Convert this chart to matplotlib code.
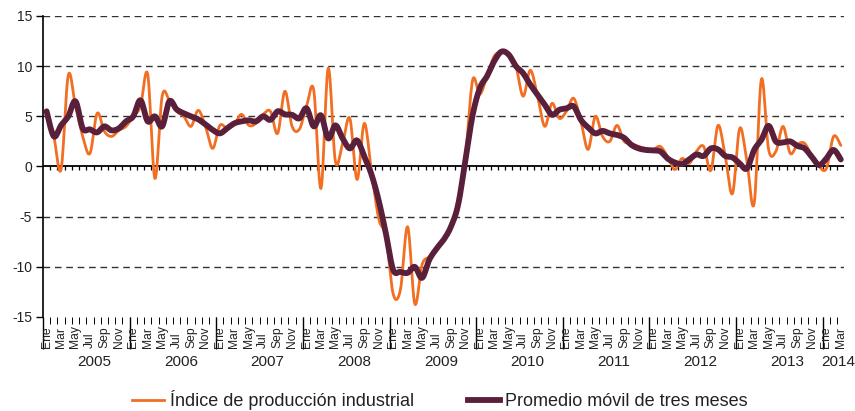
import numpy as np
import matplotlib
matplotlib.use("Agg")
import matplotlib.pyplot as plt
from matplotlib.lines import Line2D

plt.rcParams['font.family'] = ['Liberation Sans', 'DejaVu Sans']
plt.rcParams['axes.unicode_minus'] = False

# ---------------- data ----------------
years = ['2005', '2006', '2007', '2008', '2009', '2010', '2011', '2012', '2013', '2014']
month_labels = ['Ene', 'Mar', 'May', 'Jul', 'Sep', 'Nov']

indice = [
    5.5, 3.0, -0.3, 9.1, 6.0, 3.0, 1.3, 5.3, 3.5, 3.0, 3.6, 4.0,          # 2005
    5.0, 6.0, 9.2, -1.2, 7.0, 6.6, 5.5, 5.0, 4.0, 5.6, 4.0, 1.8,          # 2006
    4.1, 3.8, 4.2, 5.2, 4.1, 4.3, 5.2, 5.5, 3.3, 7.5, 4.0, 3.7,           # 2007
    6.0, 7.6, -2.2, 9.8, 0.5, 2.3, 4.8, -1.3, 4.3, -0.5, -5.2, -7.0,      # 2008
    -12.7, -12.3, -6.0, -13.7, -9.8, -9.0, -8.3, -7.3, -6.0, -4.3, 0.8, 8.6,  # 2009
    7.2, 9.0, 11.0, 11.4, 11.3, 10.0, 7.0, 9.6, 7.0, 4.0, 6.3, 4.8,       # 2010
    5.5, 6.8, 4.5, 1.7, 5.0, 3.0, 2.5, 4.1, 2.5, 2.3, 2.0, 1.8,           # 2011
    1.7, 2.0, 1.0, -0.3, 0.8, 0.3, 1.5, 2.0, -0.4, 4.1, 1.0, -2.7,        # 2012
    3.8, 0.5, -3.7, 8.7, 1.7, 1.5, 4.0, 1.3, 2.2, 2.3, 1.0, 0.0,          # 2013
    -0.2, 3.0, 2.1,                                                       # 2014
]

promedio = [
    5.5, 3.0, 4.1, 5.0, 6.5, 3.8, 3.7, 3.4, 4.0, 3.6, 3.8, 4.5,
    5.0, 6.6, 4.5, 5.0, 4.0, 6.5, 5.7, 5.3, 5.0, 4.7, 4.2, 3.65,
    3.3, 3.8, 4.3, 4.5, 4.6, 4.5, 5.0, 4.65, 5.5, 5.2, 5.15, 4.8,
    5.8, 4.0, 5.1, 2.8, 4.1, 2.8, 1.8, 2.6, 1.0, -0.8, -3.4, -6.7,
    -10.3, -10.5, -10.6, -10.0, -11.1, -9.3, -8.2, -7.3, -6.0, -3.8, 0.6, 5.1,
    7.8, 9.0, 10.5, 11.45, 11.15, 10.0, 9.3, 8.15, 7.15, 6.15, 5.15, 5.65,
    5.8, 6.0, 4.65, 3.9, 3.3, 3.55, 3.3, 3.15, 2.85, 2.15, 1.8, 1.65,
    1.6, 1.5, 0.8, 0.4, 0.25, 0.7, 1.2, 1.05, 1.8, 1.7, 1.05, 0.9,
    0.3, -0.2, 1.65, 2.65, 4.05, 2.5, 2.4, 2.5, 2.05, 1.8, 0.95, 0.15,
    0.8, 1.65, 0.7,
]

ORANGE = '#F26E22'
MAROON = '#5A1F3A'
TEXT = '#222222'


def smooth(xs, ys, n=12):
    """Catmull-Rom rendering of a line through the given points (like a smoothed line)."""
    P = np.column_stack([xs, ys]).astype(float)
    P = np.vstack([P[0], P, P[-1]])
    t = np.linspace(0, 1, n, endpoint=False)[:, None]
    out = []
    for i in range(1, len(P) - 2):
        p0, p1, p2, p3 = P[i - 1], P[i], P[i + 1], P[i + 2]
        seg = 0.5 * ((2 * p1) + (-p0 + p2) * t + (2 * p0 - 5 * p1 + 4 * p2 - p3) * t ** 2
                     + (-p0 + 3 * p1 - 3 * p2 + p3) * t ** 3)
        out.append(seg)
    out.append(P[-2][None, :])
    out = np.vstack(out)
    return out[:, 0], out[:, 1]


n = len(indice)
x = np.arange(n)

fig = plt.figure(figsize=(8.55, 4.11), dpi=100)
ax = fig.add_axes([43 / 855, (411 - 317) / 411, (844.4 - 43) / 855, (317 - 16) / 411])
ax.set_xlim(-0.5, n - 0.5)
ax.set_ylim(-15, 15)

for s in ['top', 'right', 'bottom']:
    ax.spines[s].set_visible(False)
ax.spines['left'].set_color('black')
ax.spines['left'].set_linewidth(1.2)

ax.set_yticks(np.arange(-15, 16, 5))
ax.tick_params(axis='y', direction='out', length=5, width=1, pad=3, labelsize=10, labelcolor=TEXT)
ax.set_xticks([])

# dashed gridlines
for v in [-10, -5, 5, 10, 15]:
    ax.axhline(v, color='#333333', lw=1.0, ls=(0, (4.8, 3.4)), zorder=1)

# zero line with small monthly ticks
ax.axhline(0, color='black', lw=1.3, zorder=2)
bounds = np.arange(n + 1) - 0.5
ax.vlines(bounds[1:-1], -0.35, 0, color='black', lw=0.9, zorder=2)

# series
xs, ys = smooth(x, indice)
ax.plot(xs, ys, color=ORANGE, lw=2.0, zorder=3, solid_capstyle='round')
xs, ys = smooth(x, promedio)
ax.plot(xs, ys, color=MAROON, lw=4.2, zorder=4, solid_capstyle='round', solid_joinstyle='round')

# bottom category axis
tr = ax.get_xaxis_transform()
ax.vlines(bounds[1:-1], -0.022, 0, transform=tr, color='black', lw=0.7, clip_on=False)
for i in range(0, n, 2):
    ax.text(i, -0.102, month_labels[(i % 12) // 2], rotation=90, ha='center', va='bottom',
            transform=tr, fontsize=8.7, color=TEXT)
for k, yr in enumerate(years):
    start = 12 * k
    ax.vlines(start - 0.5, -0.105, 0, transform=tr, color='black', lw=1.0, clip_on=False)
    xpos = start + 6.6 if start + 12 <= n else start + 1.6
    ax.text(xpos, -0.15, yr, ha='center', va='center', transform=tr, fontsize=11, color=TEXT)

handles = [Line2D([], [], color=ORANGE, lw=2.0),
           Line2D([], [], color=MAROON, lw=4.2)]
fig.legend(handles, ['Índice de producción industrial', 'Promedio móvil de tres meses'],
           loc='center', bbox_to_anchor=(440 / 855, 0.027), ncol=2, frameon=False, fontsize=13,
           handlelength=1.77, columnspacing=3.0, handletextpad=0.3, labelcolor=TEXT)

fig.savefig('out.png', dpi=100)
